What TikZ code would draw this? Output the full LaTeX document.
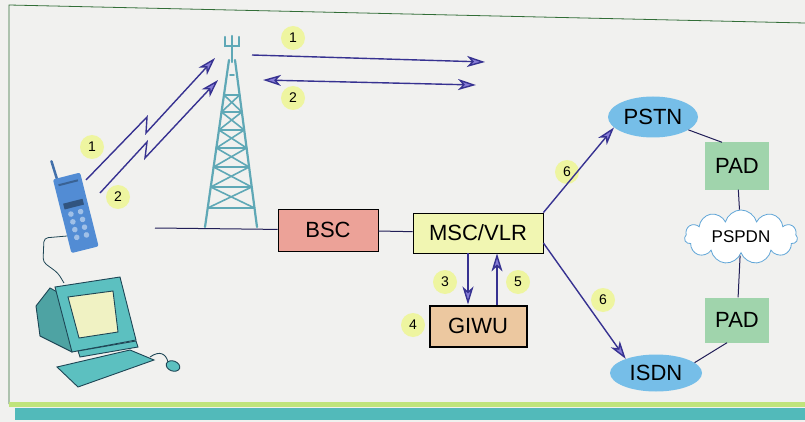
\documentclass[tikz,border=0pt]{standalone}
\usepackage{fontspec}
\setmainfont{Liberation Sans}
\usepackage{tikz}
\usetikzlibrary{arrows.meta}
\usetikzlibrary{shapes.geometric}
\usetikzlibrary{shapes.symbols}

\definecolor{bgcol}{RGB}{241,241,239}
\definecolor{framegreen}{RGB}{50,110,55}
\definecolor{linkblue}{RGB}{55,50,145}
\definecolor{tipfill}{RGB}{135,125,215}
\definecolor{bscred}{RGB}{236,162,152}
\definecolor{mscyellow}{RGB}{241,246,178}
\definecolor{giwutan}{RGB}{236,200,160}
\definecolor{padgreen}{RGB}{160,212,172}
\definecolor{netblue}{RGB}{118,190,232}
\definecolor{cloudblue}{RGB}{95,165,215}
\definecolor{towerteal}{RGB}{95,168,182}
\definecolor{numyellow}{RGB}{238,245,160}
\definecolor{pcteal}{RGB}{92,192,192}
\definecolor{pcline}{RGB}{30,70,85}
\definecolor{screencol}{RGB}{240,242,195}
\definecolor{phoneblue}{RGB}{82,140,212}
\definecolor{barteal}{RGB}{82,186,186}

\begin{document}
\begin{tikzpicture}[x=1pt,y=-1pt]
	\fill[bgcol] (0,0) rectangle (805,422);
	\useasboundingbox (0,0) rectangle (805,422);

	% frame and bottom bar
	\draw[framegreen,thick] (805,23) -- (9,5) -- (9,404);
	\fill[yellow!55!green!55] (9,402) rectangle (805,407);
	\fill[barteal] (15,408) rectangle (805,420);

	% boxes and networks
	\begin{scope}[every node/.style={inner sep=0pt,font=\fontsize{22}{24}\selectfont}]
		\node[draw=black,thick,fill=bscred,minimum width=100pt,minimum height=42pt] (bsc) at (328,230) {BSC};
		\node[draw=black,thick,fill=mscyellow,minimum width=130pt,minimum height=40pt] (msc) at (478,233) {MSC/VLR};
		\node[draw=black,line width=2pt,fill=giwutan,minimum width=97pt,minimum height=41pt] (giwu) at (478,326) {GIWU};
		\node[fill=padgreen,minimum width=64pt,minimum height=47pt] (pad1) at (737,166) {PAD};
		\node[fill=padgreen,minimum width=64pt,minimum height=45pt] (pad2) at (737,320) {PAD};
		\node[ellipse,fill=netblue,minimum width=90pt,minimum height=41pt] (pstn) at (653,117) {PSTN};
		\node[ellipse,fill=netblue,minimum width=92pt,minimum height=37pt] (isdn) at (656,373) {ISDN};
		\node[cloud,cloud puffs=11,aspect=2.2,draw=cloudblue,thick,fill=white,
		      minimum width=113pt,minimum height=52pt,font=\fontsize{17}{20}\selectfont] (pspdn) at (741,237) {PSPDN};
	\end{scope}

	% step numbers
	\begin{scope}[every node/.style={circle,fill=numyellow,minimum size=24pt,inner sep=0pt,
	              font=\fontsize{14}{16}\selectfont}]
		\node (n1t) at (293,38) {1};
		\node (n2t) at (293,98) {2};
		\node (n1p) at (92,147) {1};
		\node (n2p) at (118,197) {2};
		\node (n3) at (445,282) {3};
		\node (n4) at (413,325) {4};
		\node (n5) at (518,282) {5};
		\node (n6a) at (567,172) {6};
		\node (n6b) at (603,300) {6};
	\end{scope}

	% tower
	\coordinate (base) at (155,228);
	\begin{scope}[towerteal,line width=2.2pt,line cap=round]
		\draw (229,60) -- (205,227);
		\draw (235,60) -- (257,227);
		\draw (232,45) -- (232,62);
		\draw (225,37) -- (225,46) -- (239,46) -- (239,37);
		\draw (232,36) -- (232,46);
		\draw[line width=1.6pt] (230,75) -- (234,75);
		\foreach \ya/\yb in {95/112,112/130,130/148,148/167,167/187,187/208} {
			\pgfmathsetmacro{\la}{229-(\ya-60)*0.1437}
			\pgfmathsetmacro{\ra}{235+(\ya-60)*0.1317}
			\pgfmathsetmacro{\lb}{229-(\yb-60)*0.1437}
			\pgfmathsetmacro{\rb}{235+(\yb-60)*0.1317}
			\draw[line width=1.8pt] (\la,\ya) -- (\ra,\ya);
			\draw[line width=1.6pt] (\la,\ya) -- (\rb,\yb);
			\draw[line width=1.6pt] (\ra,\ya) -- (\lb,\yb);
		}
		\draw[line width=1.8pt] (207.7,208) -- (254.5,208);
	\end{scope}

	% phone, drawn along its own tilted axes
	\begin{scope}[shift={(66.5,176)},x={(0.97pt,0.244pt)},y={(0.244pt,-0.97pt)}]
		\draw[phoneblue!80!black,line width=2.5pt,line cap=round] (-10,0) -- (-11,-18);
		\fill[phoneblue,rounded corners=2pt] (-14,0) -- (14,0) -- (14,76) -- (-14,76) -- cycle;
		\fill[phoneblue!60!black] (-10,26) -- (10,26) -- (10,32) -- (-10,32) -- cycle;
		\fill[phoneblue!70!black] (-10,6) -- (10,6) -- (10,8) -- (-10,8) -- cycle;
		\foreach \t in {38,46,54,62}
			\foreach \u in {-5,5}
				\fill[phoneblue!55!white] (\u,\t) circle (2.8);
	\end{scope}
	\coordinate (phcab) at (67,236);
	\coordinate (pccab) at (64,283);
	\draw[pcline,thick,rounded corners=4pt] (phcab) -- (44,238) -- (43,262) -- (58,273) -- (pccab);

	% computer
	\begin{scope}[draw=pcline,line width=0.9pt]
		\filldraw[fill=pcteal!85!black] (50,288) -- (36,306) -- (40,336) -- (72,352) -- (72,300) -- cycle;
		\filldraw[fill=pcteal] (55,287) -- (120,277) -- (136,340) -- (72,352) -- cycle;
		\filldraw[fill=screencol] (68,297) -- (113,291) -- (118,332) -- (79,338) -- cycle;
		\filldraw[fill=pcteal] (78,351) -- (136,341) -- (138,347) -- (80,357) -- cycle;
		\filldraw[fill=pcteal] (57,367) -- (130,350) -- (154,360) -- (78,387) -- cycle;
		\draw[line width=0.9pt] (150,357) .. controls (160,350) and (166,354) .. (168,362);
		\filldraw[fill=pcteal,rotate around={-20:(173,366)}] (173,366) ellipse (7 and 5);
	\end{scope}

	% connectors
	\begin{scope}[>={Stealth[length=18pt,width=11pt,inset=5pt,fill=tipfill]},
	              every edge/.style={draw=linkblue,line width=1.4pt}]
		\path (msc.north east) edge[->] (pstn.195);
		\path ([yshift=-10pt]msc.east) edge[->] (isdn.155);
		\path ([xshift=-10pt]msc.south) edge[->] ([xshift=-10pt]giwu.north);
		\path ([xshift=19pt]giwu.north) edge[->] ([xshift=19pt]msc.south);
		\coordinate (t1s) at (252,55);
		\coordinate (t1e) at (485,62);
		\coordinate (t2s) at (263,80);
		\coordinate (t2e) at (476,85);
		\path (t1s) edge[->] (t1e);
		\path (t2s) edge[<->] (t2e);
		\coordinate (ph1) at (86,180);
		\coordinate (tw1) at (215,58);
		\coordinate (ph2) at (100,193);
		\coordinate (tw2) at (218,80);
		\draw[linkblue,line width=1.4pt,->] (ph1) -- (147,117) -- (146,133) -- (tw1);
		\draw[linkblue,line width=1.4pt,->] (ph2) -- (147,142) -- (145,158) -- (tw2);
	\end{scope}

	% plain links
	\begin{scope}[draw=linkblue!60!black,line width=1pt]
		\draw (base) -- (bsc);
		\draw (bsc) -- (msc);
		\draw (pstn.-20) -- ([xshift=-15pt]pad1.north);
		\draw (pad1) -- (pspdn);
		\draw (pspdn) -- (pad2);
		\draw ([xshift=-10pt]pad2.south) -- (isdn.15);
	\end{scope}
\end{tikzpicture}
\end{document}
